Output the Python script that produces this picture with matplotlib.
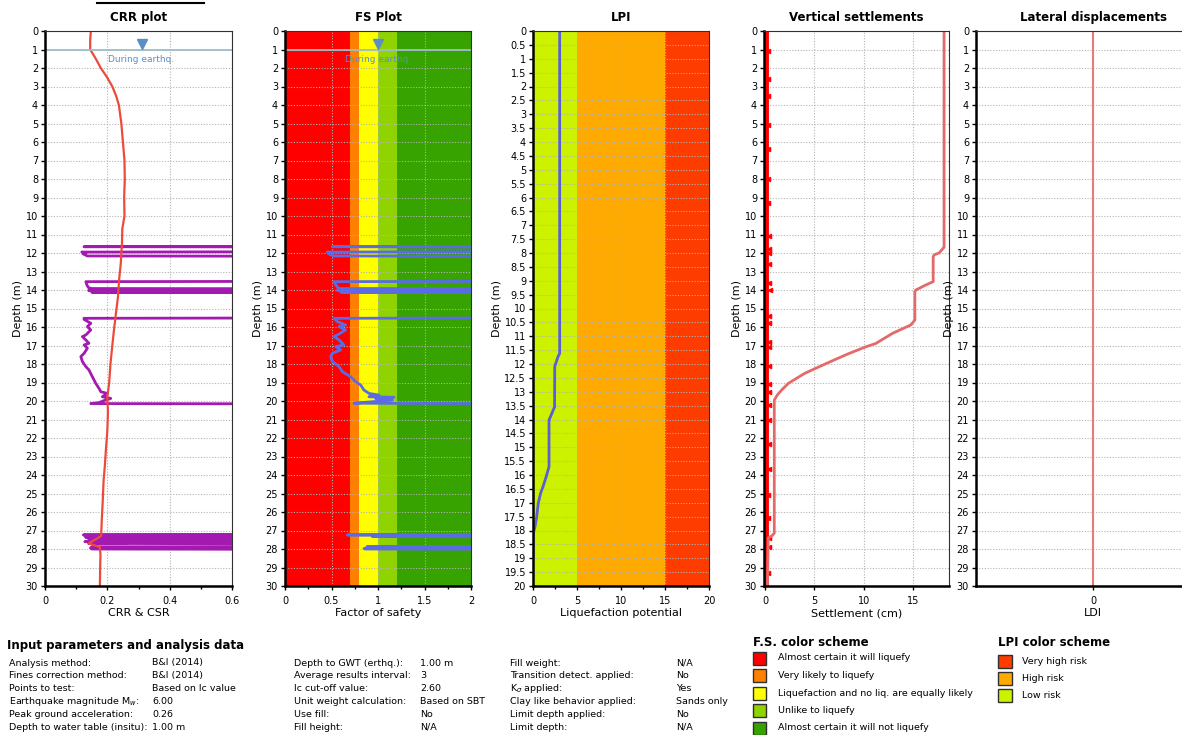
import matplotlib
matplotlib.use('Agg')
import matplotlib.pyplot as plt
import numpy as np
from matplotlib.patches import Rectangle
from matplotlib.lines import Line2D
from matplotlib.ticker import MultipleLocator, FormatStrFormatter, FixedLocator

plt.rcParams['font.family'] = ['DejaVu Sans']

W, H = 1182, 735
NAN = np.nan

# ---- CRR plot: CSR (red) and CRR (purple, off-chart where not liquefiable)
csr_depth = [0, 0.5, 1.0, 1.5, 2, 2.5, 3, 3.5, 4, 5, 6, 7, 8, 9, 10, 10.7, 11.5, 12.6, 13.4,
             14.4, 15.2, 16.2, 17.0, 18.0, 19.0, 19.8, 20.6, 21.6, 22.5, 23.5, 24.3, 25.5,
             26.5, 27.3, 27.7, 27.9, 28.3, 29.0, 30]
csr_val = [0.147, 0.145, 0.145, 0.163, 0.179, 0.199, 0.216, 0.228, 0.237, 0.245, 0.25, 0.255,
           0.256, 0.254, 0.255, 0.248, 0.247, 0.243, 0.238, 0.234, 0.228, 0.221, 0.216, 0.21,
           0.206, 0.2, 0.202, 0.2, 0.196, 0.192, 0.188, 0.185, 0.182, 0.18, 0.14, 0.176,
           0.178, 0.177, 0.176]

crr_depth = [11.60, 11.66, 11.70, 11.90, 11.95, 12.00, 12.05, 12.10, 12.16, 12.20, NAN,
             13.50, 13.55, 13.75, 13.88, 13.92, 13.95, 14.00, 14.02, 14.07, 14.10, 14.12, 14.16, NAN,
             15.48, 15.53, 15.59, 15.80, 15.98, 16.16, 16.43, 16.52, 16.70, 16.88, 16.97, 17.15,
             17.42, 17.60, 17.87, 18.14, 18.32, 18.69, 19.05, 19.31, 19.50, 19.59, 19.77, 19.86,
             19.98, 20.09, 20.14, 20.18, NAN,
             27.18, 27.24, 27.28, 27.32, 27.36, 27.42, 27.46, 27.50, 27.56, 27.60, 27.66, 27.70,
             27.76, 27.85, 27.88, 27.95, 28.00, 28.05]
crr_val = [2.0, 0.125, 2.0, 2.0, 0.118, 0.13, 0.122, 0.13, 0.135, 2.0, NAN,
           2.0, 0.131, 0.135, 0.14, 0.15, 2.0, 2.0, 0.14, 2.0, 2.0, 0.15, 2.0, NAN,
           2.0, 0.125, 0.1255, 0.147, 0.136, 0.147, 0.131, 0.120, 0.131, 0.141, 0.1255, 0.136,
           0.1255, 0.115, 0.120, 0.131, 0.141, 0.152, 0.163, 0.173, 0.179, 0.2, 0.184, 0.211,
           0.189, 0.173, 0.147, 2.0, NAN,
           2.0, 0.123, 2.0, 2.0, 0.13, 0.37, 0.14, 2.0, 2.0, 0.128, 0.264, 0.14,
           2.0, 2.0, 0.15, 0.146, 0.15, 2.0]

# ---- FS plot
fs_depth = [11.60, 11.66, 11.70, 11.90, 11.95, 12.00, 12.05, 12.10, 12.16, 12.20, NAN,
            13.50, 13.55, 13.75, 13.88, 13.92, 13.95, 14.00, 14.02, 14.07, 14.10, 14.12, 14.16, NAN,
            15.48, 15.53, 15.71, 15.89, 15.98, 16.16, 16.43, 16.52, 16.70, 16.97, 17.06, 17.24,
            17.42, 17.61, 17.87, 18.14, 18.41, 18.69, 18.96, 19.14, 19.41, 19.59, 19.68, 19.77,
            19.80, 19.86, 19.95, 20.04, 20.12, 20.17, NAN,
            27.18, 27.24, 27.27, 27.30, 27.33, 27.36, NAN,
            27.85, 27.88, 27.92, 27.95, 27.97, 28.00, 28.03]
fs_val = [5, 0.51, 5, 5, 0.455, 0.5, 0.47, 0.5, 0.52, 5, NAN,
          5, 0.527, 0.55, 0.57, 0.58, 5, 5, 0.56, 5, 5, 0.6, 5, NAN,
          5, 0.527, 0.563, 0.652, 0.581, 0.652, 0.563, 0.527, 0.581, 0.634, 0.545, 0.599,
          0.509, 0.491, 0.509, 0.581, 0.616, 0.706, 0.760, 0.814, 0.849, 0.903, 1.011, 0.903,
          1.172, 0.975, 1.154, 0.939, 0.742, 5, NAN,
          5, 0.67, 5, 5, 0.94, 5, NAN,
          5, 0.88, 5, 5, 0.85, 0.86, 5]
fs_bounds = [0, 0.7, 0.8, 1.0, 1.2, 2.0]
fs_colors = ['#ff0000', '#ff8000', '#ffff00', '#8fd400', '#36a300']
fs_labels = ['Almost certain it will liquefy', 'Very likely to liquefy',
             'Liquefaction and no liq. are equally likely', 'Unlike to liquefy',
             'Almost certain it will not liquefy']

# ---- LPI
lpi_depth = [0, 11.5, 11.62, 11.74, 11.92, 12.09, 13.55, 14.02, 15.70, 16.06, 16.42, 16.66,
             17.02, 17.50, 17.86, 18.10, 18.90]
lpi_val = [3.03, 3.03, 3.03, 2.84, 2.65, 2.47, 2.45, 1.82, 1.82, 1.50, 1.14, 0.86, 0.60,
           0.42, 0.23, 0.04, 0.0]
lpi_bounds = [0, 5, 15, 20]
lpi_colors = ['#ccf200', '#ffaa00', '#ff3c00']
lpi_legend_colors = ['#ff3c00', '#ffaa00', '#ccf200']
lpi_labels = ['Very high risk', 'High risk', 'Low risk']

# ---- Vertical settlements
set_depth = [0, 11.7, 11.75, 12.0, 12.1, 12.2, 13.55, 13.73, 14.0, 14.1, 15.62, 15.89, 16.34,
             16.89, 17.07, 17.43, 17.97, 18.51, 19.05, 19.41, 19.68, 19.95, 20.3, 27.15, 27.3,
             27.4, 30]
set_val = [18.1, 18.1, 18.0, 17.6, 17.1, 17.0, 17.0, 16.25, 15.25, 15.15, 15.15, 14.74, 12.9,
           11.2, 10.2, 8.5, 6.2, 4.0, 2.35, 1.68, 1.24, 0.94, 0.94, 0.94, 0.67, 0.33, 0.25]
layer_depth = [0, 30]
layer_val = [0.15, 0.15]
bump_depth = [1.1, 2.6, 3.5, 5.1, 6.4, 8.0, 9.3, 11.1, 11.8, 12.0, 12.6, 13.6, 14.0, 15.4,
              15.8, 16.8, 17.1, 18.1, 19.1, 19.5, 20.2, 21.0, 22.3, 23.7, 25.1, 26.3, 27.4,
              27.9, 29.3]
bump_val = [0.3, 0.3, 0.3, 0.35, 0.3, 0.3, 0.3, 0.4, 0.45, 0.45, 0.4, 0.45, 0.5, 0.4, 0.45,
            0.4, 0.4, 0.45, 0.4, 0.4, 0.4, 0.4, 0.4, 0.4, 0.35, 0.35, 0.4, 0.45, 0.35]

# ---- Lateral displacements
ldi_depth = [0, 30]
ldi_val = [0, 0]

gwt_depth = 1.0

# ---- parameter table
params_1 = [('Analysis method:', 'B&I (2014)'), ('Fines correction method:', 'B&I (2014)'),
            ('Points to test:', 'Based on Ic value'),
            ('Earthquake magnitude M$_w$:', '6.00'), ('Peak ground acceleration:', '0.26'),
            ('Depth to water table (insitu):', '1.00 m')]
params_2 = [('Depth to GWT (erthq.):', '1.00 m'), ('Average results interval:', '3'),
            ('Ic cut-off value:', '2.60'), ('Unit weight calculation:', 'Based on SBT'),
            ('Use fill:', 'No'), ('Fill height:', 'N/A')]
params_3 = [('Fill weight:', 'N/A'), ('Transition detect. applied:', 'No'),
            (r'K$_\sigma$ applied:', 'Yes'), ('Clay like behavior applied:', 'Sands only'),
            ('Limit depth applied:', 'No'), ('Limit depth:', 'N/A')]


fig = plt.figure(figsize=(W / 100, H / 100), dpi=100)


def px_axes(x0, x1, y0=31, y1=586):
    return fig.add_axes([x0 / W, 1 - y1 / H, (x1 - x0) / W, (y1 - y0) / H])


def style_axes(ax, title, xlabel, ymax=30, ystep=1):
    ax.set_ylim(ymax, 0)
    ax.yaxis.set_major_locator(MultipleLocator(ystep))
    ax.yaxis.set_major_formatter(FormatStrFormatter('%g'))
    ax.grid(True, color='#b4b4b4', linestyle=(0, (1, 1.5)), linewidth=0.8)
    ax.tick_params(labelsize=7, length=3, width=1, pad=2)
    ax.tick_params(axis='x', pad=4)
    ax.tick_params(axis='x', which='minor', length=2, width=1)
    for s in ['left', 'bottom']:
        ax.spines[s].set_linewidth(1.8)
        ax.spines[s].set_color('black')
    for s in ['top', 'right']:
        ax.spines[s].set_linewidth(0.8)
        ax.spines[s].set_color('#303030')
    ax.set_title(title, fontsize=8.5, fontweight='bold', pad=7.5)
    ax.set_xlabel(xlabel, fontsize=8, labelpad=2)
    ax.set_ylabel('Depth (m)', fontsize=8, labelpad=2)


def ft(x, y, s, **kw):
    kw.setdefault('fontsize', 6.8)
    fig.text(x / W, 1 - y / H, s, va='center', ha='left', **kw)


# CRR plot
ax1 = px_axes(45, 232)
ax1.plot(crr_val, crr_depth, color='#a31ab0', lw=2)
ax1.plot(csr_val, csr_depth, color='#ec4b3c', lw=1.6)
ax1.axhline(gwt_depth, color='#9fbccb', lw=1.3)
ax1.plot(0.31, gwt_depth - 0.3, marker='v', color='#5b8ec4', ms=7, clip_on=False)
ax1.text(0.31, gwt_depth + 0.55, 'During earthq.', color='#5b8ec4', fontsize=6.5, ha='center', va='center')
ax1.set_xlim(0, 0.6)
ax1.xaxis.set_major_locator(MultipleLocator(0.2))
ax1.xaxis.set_minor_locator(MultipleLocator(0.1))
ax1.xaxis.set_major_formatter(FormatStrFormatter('%g'))
style_axes(ax1, 'CRR plot', 'CRR & CSR')

# FS plot
ax2 = px_axes(285, 471)
for lo, hi, c in zip(fs_bounds[:-1], fs_bounds[1:], fs_colors):
    ax2.axvspan(lo, hi, color=c, lw=0, zorder=0)
ax2.plot(fs_val, fs_depth, color='#5b6be6', lw=2)
ax2.axhline(gwt_depth, color='#9fbccb', lw=1.3)
ax2.plot(1.0, gwt_depth - 0.3, marker='v', color='#5b8ec4', ms=7, clip_on=False)
ax2.text(1.0, gwt_depth + 0.55, 'During earthq.', color='#5b8ec4', fontsize=6.5, ha='center', va='center')
ax2.set_xlim(0, 2)
ax2.xaxis.set_major_locator(MultipleLocator(0.5))
ax2.xaxis.set_minor_locator(MultipleLocator(0.25))
ax2.xaxis.set_major_formatter(FormatStrFormatter('%g'))
style_axes(ax2, 'FS Plot', 'Factor of safety')

# LPI
ax3 = px_axes(533, 709)
for lo, hi, c in zip(lpi_bounds[:-1], lpi_bounds[1:], lpi_colors):
    ax3.axvspan(lo, hi, color=c, lw=0, zorder=0)
ax3.plot(lpi_val, lpi_depth, color='#5a5fd6', lw=2)
ax3.set_xlim(0, 20)
ax3.xaxis.set_major_locator(MultipleLocator(5))
ax3.xaxis.set_minor_locator(MultipleLocator(2.5))
style_axes(ax3, 'LPI', 'Liquefaction potential', ymax=20, ystep=0.5)

# Vertical settlements
ax4 = px_axes(764, 949)
ax4.plot(layer_val, layer_depth, color='#ff0000', lw=3.5)
ax4.plot(bump_val, bump_depth, ls='none', marker='<', color='#ff0000', ms=3)
ax4.plot(set_val, set_depth, color='#e46a6a', lw=2)
ax4.set_xlim(-0.1, 18.6)
ax4.xaxis.set_major_locator(MultipleLocator(5))
style_axes(ax4, 'Vertical settlements', 'Settlement (cm)')

# Lateral displacements
ax5 = px_axes(976, 1210)
ax5.plot(ldi_val, ldi_depth, color='#e87a7a', lw=1.5)
ax5.set_xlim(-1, 1)
ax5.xaxis.set_major_locator(FixedLocator([0]))
style_axes(ax5, 'Lateral displacements', 'LDI')

# cut-off header underline
fig.add_artist(Line2D([97 / W, 204 / W], [1 - 3 / H, 1 - 3 / H], color='black', lw=1.5))

# parameter table
ft(7, 645, 'Input parameters and analysis data', fontsize=8.5, fontweight='bold')
row_y = [663, 675.8, 688.6, 701.4, 714.2, 727]
for (lab, val), y in zip(params_1, row_y):
    ft(9, y, lab)
    ft(152, y, val)
for (lab, val), y in zip(params_2, row_y):
    ft(294, y, lab)
    ft(420, y, val)
for (lab, val), y in zip(params_3, row_y):
    ft(510, y, lab)
    ft(676, y, val)

# F.S. colour scheme
ft(753, 642, 'F.S. color scheme', fontsize=8.5, fontweight='bold')
for i, (c, lab) in enumerate(zip(fs_colors, fs_labels)):
    y = 658 + 17.5 * i
    fig.add_artist(Rectangle((753 / W, 1 - (y + 6.5) / H), 13 / W, 13 / H,
                             facecolor=c, edgecolor='#303030', lw=1))
    ft(778, y, lab)

# LPI colour scheme
ft(998, 642, 'LPI color scheme', fontsize=8.5, fontweight='bold')
for i, (c, lab) in enumerate(zip(lpi_legend_colors, lpi_labels)):
    y = 661 + 17.3 * i
    fig.add_artist(Rectangle((998 / W, 1 - (y + 6.5) / H), 14 / W, 13 / H,
                             facecolor=c, edgecolor='#303030', lw=1))
    ft(1022, y, lab)

fig.savefig('out.png', dpi=100)
